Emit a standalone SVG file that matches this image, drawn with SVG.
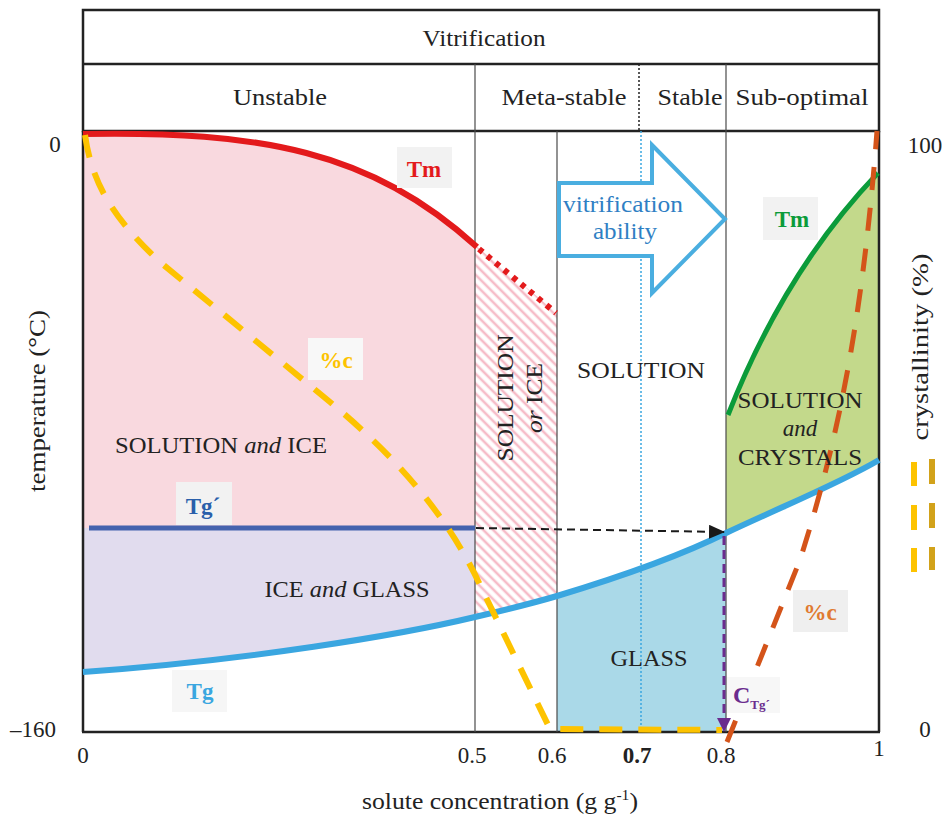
<svg xmlns="http://www.w3.org/2000/svg" width="945" height="817" viewBox="0 0 945 817">
<defs>
<style>
text{font-family:"Liberation Serif","Times New Roman",serif;fill:#222;}
.t{font-size:23px}
.lbl{font-size:23px;font-weight:bold;text-anchor:middle}
.box{fill:#f2f2f2}
.thin{stroke:#4a4a4a;stroke-width:1.2;fill:none}
.mid{text-anchor:middle}
</style>
<pattern id="hatch" patternUnits="userSpaceOnUse" width="7" height="7" patternTransform="rotate(-45)">
<rect width="7" height="7" fill="#ffffff"/>
<line x1="2" y1="0" x2="2" y2="7" stroke="#f6bcc8" stroke-width="2.6"/>
</pattern>
<marker id="ahBlack" markerUnits="userSpaceOnUse" markerWidth="16" markerHeight="14" refX="15" refY="7" orient="auto">
<path d="M0,0 L16,7 L0,14 Z" fill="#1a1a1a"/>
</marker>
<marker id="ahPurple" markerUnits="userSpaceOnUse" markerWidth="14" markerHeight="14" refX="13" refY="7" orient="auto">
<path d="M0,0 L14,7 L0,14 Z" fill="#6b2c8e"/>
</marker>
</defs>
<rect width="945" height="817" fill="#ffffff"/>

<!-- region fills -->
<g id="regions">
<path id="pink" d="M83,134 C260,131 370,150 475,245 L475,528 L83,528 Z" fill="#f9d9df"/>
<path id="purple" d="M83,528 L475,528 L475,617 C400,635 250,660 83,672 Z" fill="#e1dcee"/>
<path id="hatched" d="M475,245 Q515,278 557,313 L557,596 C530,604 505,610 475,617 Z" fill="url(#hatch)"/>
<path id="glass" d="M557,596 C610,580 680,556 726,533 L726,732 L557,732 Z" fill="#aad9e8"/>
<path id="green" d="M728,415 Q785,270 878,173 L879,460 C840,483 790,503 726,533 L726,415 Z" fill="#c3d98b"/>
</g>

<!-- frame and grid -->
<g id="frame">
<rect x="83" y="10" width="796" height="121" fill="none" stroke="#222" stroke-width="2.5"/>
<line x1="83" y1="64" x2="879" y2="64" stroke="#222" stroke-width="2.5"/>
<line x1="83" y1="131" x2="83" y2="732" stroke="#222" stroke-width="2.5"/>
<line x1="879" y1="131" x2="879" y2="732" stroke="#222" stroke-width="2.5"/>
<line x1="82" y1="732" x2="880" y2="732" stroke="#222" stroke-width="2.5"/>
<line class="thin" x1="475" y1="64" x2="475" y2="732"/>
<line class="thin" x1="557" y1="131" x2="557" y2="732"/>
<line class="thin" x1="726" y1="64" x2="726" y2="732"/>
<line x1="639" y1="64" x2="639" y2="131" stroke="#222" stroke-width="1.5" stroke-dasharray="2,2"/>
<line x1="641" y1="131" x2="641" y2="732" stroke="#3aa6e0" stroke-width="1.5" stroke-dasharray="2,2"/>
</g>

<!-- header texts -->
<g id="header">
<text class="t mid" x="484" y="46" font-size="24" textLength="123" lengthAdjust="spacingAndGlyphs">Vitrification</text>
<text class="t mid" x="280" y="105" textLength="94" lengthAdjust="spacingAndGlyphs">Unstable</text>
<text class="t mid" x="564" y="105" textLength="125" lengthAdjust="spacingAndGlyphs">Meta-stable</text>
<text class="t mid" x="690" y="105" textLength="65" lengthAdjust="spacingAndGlyphs">Stable</text>
<text class="t mid" x="802" y="105" textLength="133" lengthAdjust="spacingAndGlyphs">Sub-optimal</text>
</g>

<!-- vitrification ability arrow -->
<g id="arrow-ability">
<path d="M559,183 L652,183 L652,145 L725,219 L652,293 L652,256 L559,256 Z" fill="#ffffff" stroke="#4aaee0" stroke-width="4" stroke-linejoin="miter"/>
<text class="t mid" x="623" y="212" style="fill:#2f7fc4" textLength="120" lengthAdjust="spacingAndGlyphs">vitrification</text>
<text class="t mid" x="625" y="239" style="fill:#2f7fc4" textLength="64" lengthAdjust="spacingAndGlyphs">ability</text>
</g>

<!-- curves -->
<g id="connectors">
<path id="tm-red" d="M83,134 C260,131 370,150 477,247" fill="none" stroke="#e31a1c" stroke-width="6"/>
<path id="tm-red-dotted" d="M479,249 Q515,279 556,313" fill="none" stroke="#e31a1c" stroke-width="6" stroke-dasharray="5,6"/>
<line id="tgprime" x1="89" y1="528" x2="475" y2="528" stroke="#4563ae" stroke-width="5"/>
<path id="tg" d="M83,672 C250,660 400,635 475,617 C505,610 530,604 557,596 C610,580 680,556 726,533 C790,503 840,483 879,460" fill="none" stroke="#3aa6e0" stroke-width="6"/>
<path id="tm-green" d="M728,415 Q785,270 878,173" fill="none" stroke="#0b9b3a" stroke-width="5"/>
<path id="pc-yellow" d="M85,135 C92,185 115,220 160,262 L330,402 C400,460 450,520 480,585 L550,729 L722,730" fill="none" stroke="#fdc300" stroke-width="6" stroke-dasharray="23,16"/>
<path id="pc-orange" d="M727,742 L800,560 C835,450 862,330 877,131" fill="none" stroke="#d4541a" stroke-width="5" stroke-dasharray="23,18"/>
<line id="arrow-tgprime" x1="476" y1="528" x2="724" y2="532" stroke="#1a1a1a" stroke-width="2" stroke-dasharray="8,5" marker-end="url(#ahBlack)"/>
<line id="arrow-ctg" x1="724" y1="536" x2="724" y2="731" stroke="#6b2c8e" stroke-width="3" stroke-dasharray="9,5" marker-end="url(#ahPurple)"/>
</g>

<!-- curve labels -->
<g id="label-tm-red">
<rect class="box" x="397" y="147" width="55" height="41"/>
<text class="lbl" x="424" y="177" style="fill:#e31a1c">Tm</text>
</g>
<g id="label-pc-yellow">
<rect class="box" x="308" y="338" width="55" height="42" style="fill:#f8f8f8"/>
<text class="lbl" x="336" y="368" style="fill:#fdc300">%c</text>
</g>
<g id="label-tgprime">
<rect class="box" x="176" y="482" width="56" height="43"/>
<text class="lbl" x="203" y="514" style="fill:#2a5faa">Tg´</text>
</g>
<g id="label-tg">
<rect class="box" x="172" y="670" width="55" height="42" style="fill:#f6f6f6"/>
<text class="lbl" x="200" y="699" style="fill:#3aa6e0">Tg</text>
</g>
<g id="label-tm-green">
<rect class="box" x="763" y="197" width="55" height="43"/>
<text class="lbl" x="792" y="227" style="fill:#0b9b3a">Tm</text>
</g>
<g id="label-pc-orange">
<rect class="box" x="793" y="590" width="55" height="42" style="fill:#efefef"/>
<text class="lbl" x="820" y="620" style="fill:#e07a30">%c</text>
</g>
<g id="label-ctg">
<rect class="box" x="727" y="677" width="53" height="36" style="fill:#f7f7f7"/>
<text x="733" y="703" font-size="24" font-weight="bold" style="fill:#6b2c8e">C<tspan font-size="13" dy="6">Tg´</tspan></text>
</g>

<!-- region labels -->
<g id="label-solution-ice">
<text class="t mid" x="221" y="453" textLength="212" lengthAdjust="spacingAndGlyphs">SOLUTION <tspan font-style="italic">and</tspan> ICE</text>
</g>
<g id="label-ice-glass">
<text class="t mid" x="347" y="597" textLength="165" lengthAdjust="spacingAndGlyphs">ICE <tspan font-style="italic">and</tspan> GLASS</text>
</g>
<g id="label-solution-or-ice">
<text class="t mid" transform="translate(513,398) rotate(-90)" font-size="25" textLength="127" lengthAdjust="spacingAndGlyphs">SOLUTION</text>
<text class="t mid" transform="translate(542,398) rotate(-90)" textLength="70" lengthAdjust="spacingAndGlyphs"><tspan font-style="italic">or</tspan> ICE</text>
</g>
<g id="label-solution">
<text class="t mid" x="641" y="378" textLength="128" lengthAdjust="spacingAndGlyphs">SOLUTION</text>
</g>
<g id="label-glass">
<text class="t mid" x="649" y="666" textLength="77" lengthAdjust="spacingAndGlyphs">GLASS</text>
</g>
<g id="label-solution-crystals">
<text class="t mid" x="800" y="408" textLength="125" lengthAdjust="spacingAndGlyphs">SOLUTION</text>
<text class="t mid" x="800" y="436" font-style="italic">and</text>
<text class="t mid" x="800" y="465" textLength="124" lengthAdjust="spacingAndGlyphs">CRYSTALS</text>
</g>

<!-- axes labels -->
<g id="axes">
<text class="t mid" x="55" y="152">0</text>
<text class="t mid" x="33" y="737">–160</text>
<text class="t mid" x="925" y="153">100</text>
<text class="t mid" x="925" y="737">0</text>
<text class="t mid" x="83" y="763">0</text>
<text class="t mid" x="472" y="763">0.5</text>
<text class="t mid" x="552" y="763">0.6</text>
<text class="t mid" x="637" y="763" font-weight="bold">0.7</text>
<text class="t mid" x="721" y="763">0.8</text>
<text class="t mid" x="879" y="756">1</text>
<text class="t mid" x="500" y="809" font-size="24" textLength="276" lengthAdjust="spacingAndGlyphs">solute concentration (g g<tspan font-size="14" dy="-9">-1</tspan><tspan dy="9">)</tspan></text>
<text class="t mid" transform="translate(45,401) rotate(-90)" font-size="24" textLength="182" lengthAdjust="spacingAndGlyphs">temperature (°C)</text>
<text class="t mid" transform="translate(928,347) rotate(-90)" font-size="24" textLength="187" lengthAdjust="spacingAndGlyphs">crystallinity (%)</text>
</g>

<!-- legend dashes -->
<g id="legend">
<rect x="911" y="462" width="6" height="24" fill="#fdc300"/>
<rect x="911" y="505" width="6" height="25" fill="#fdc300"/>
<rect x="911" y="548" width="6" height="24" fill="#fdc300"/>
<rect x="929" y="459" width="6" height="25" fill="#d2a21a"/>
<rect x="929" y="503" width="6" height="25" fill="#d2a21a"/>
<rect x="929" y="547" width="6" height="23" fill="#d2a21a"/>
</g>
</svg>
